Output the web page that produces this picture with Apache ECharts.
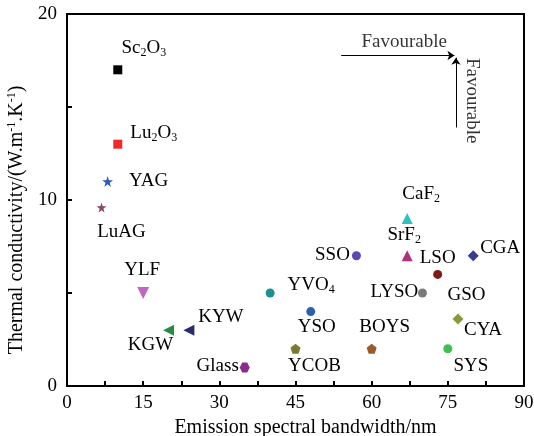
<!DOCTYPE html>
<html>
<head>
<meta charset="utf-8">
<script src="https://cdn.jsdelivr.net/npm/echarts@6/dist/echarts.min.js"></script>
<style>html,body{margin:0;padding:0;background:#fff;}#c{width:534px;height:436px;}</style>
</head>
<body>
<div id="c"></div>
<script>
const names = ['Sc2O3','Lu2O3','YAG','LuAG','YLF','YVO4','KGW','KYW','Glass','YCOB','YSO','BOYS','SYS','CYA','LYSO','GSO','LSO','SSO','SrF2','CaF2','CGA'];
const bandwidth = [10,10,8,6.8,15,40,20,24,35,45,48,60,75,77,70,70,73,57,67,67,80];
const conductivity = [17,13,11,9.6,5,5,3,3,1,2,4,2,2,3.6,5,5,6,7,7,9,7];
const xTicks = [0,15,30,45,60,75,90];
const yTicks = [0,10,20];
const annotationText = ['Favourable','Favourable'];

// styles (kept separate from data)
const FONT = '"Liberation Serif","Times New Roman",serif';
const colors = ['#000000','#ee2a2a','#2a5aba','#8a4a56','#c068c0','#1a9090','#2a8a40','#2a2a70','#8a2a8a','#7a7a30','#2a60b0','#9a5a2a','#40c050','#8a9a3a','#7a7a7a','#7a7a7a','#801a1a','#5a4ab0','#b03080','#30c0c0','#3a3a90'];
const STAR = 'path://M50,0 L61,35 L98,35 L68,57 L79,91 L50,70 L21,91 L32,57 L2,35 L39,35 Z';
const PENT = 'path://M50,0 L98,35 L79,91 L21,91 L2,35 Z';
const HEX = 'path://M25,0 L75,0 L100,50 L75,100 L25,100 L0,50 Z';
const symbols = ['rect','rect',STAR,STAR,'triangle','circle','triangle','triangle',HEX,PENT,'circle',PENT,'circle','diamond','circle','circle','circle','circle','triangle','triangle','diamond'];
const symRot = [0,0,0,0,180,0,90,90,0,0,0,0,0,0,0,0,0,0,0,0,0];
const symSize = [9,9,11,10,12,9,11,11,10,10,9,10,9,11,9,0,9,9,11,11,11];
const labelOffsets = [[26,-22],[36,-11],[41,0],[20,25],[-1,-23],[41,-8],[-18,15],[32,-13],[-27,-1],[19,17],[6,15],[13,-22],[23,17],[25,11],[-28,-1],[44,2],[0,-16],[-24,-1],[-3,-21],[14,-25],[27,-8]];

function richName(n){
  return n.replace(/([A-Za-z]+)|(\d+)/g,(m,a,d)=> a ? '{t|'+a+'}' : '{s|'+d+'}');
}
const rich = {
  t:{fontFamily:FONT,fontSize:19,color:'#000',lineHeight:22},
  s:{fontFamily:FONT,fontSize:12,color:'#000',verticalAlign:'bottom',lineHeight:12}
};

const pts = names.map((n,i)=>({
  name:n,
  value:[bandwidth[i],conductivity[i]],
  symbol:symbols[i],
  symbolSize:symSize[i],
  symbolRotate:symRot[i],
  itemStyle:{color:colors[i],opacity:1},
  label:{show:true,position:'inside',offset:labelOffsets[i],formatter:richName(n),rich:rich}
}));

const annoPts = [
  {value:[66.4,18.47],label:{show:true,position:'inside',formatter:annotationText[0],fontFamily:FONT,fontSize:19,color:'#000'}},
  {value:[79.8,15.34],label:{show:true,position:'inside',rotate:-90,formatter:annotationText[1],fontFamily:FONT,fontSize:19,color:'#000'}}
];

const chart = echarts.init(document.getElementById('c'),null,{renderer:'canvas'});
const axisCommon = {
  axisLine:{show:true,onZero:false,lineStyle:{color:'#000',width:2}},
  axisTick:{show:true,inside:true,length:5,lineStyle:{color:'#000',width:2}},
  minorTick:{show:true,splitNumber:2,length:5,lineStyle:{color:'#000',width:2}},
  splitLine:{show:false},
  axisLabel:{fontFamily:FONT,fontSize:19,color:'#000'}
};
chart.setOption({
  animation:false,
  backgroundColor:'#fff',
  grid:{left:67,right:10,top:14,bottom:50,containLabel:false,outerBoundsMode:'none',show:true,borderColor:'#000',borderWidth:2,backgroundColor:'transparent'},
  xAxis:Object.assign({},axisCommon,{
    type:'value',min:xTicks[0],max:xTicks[xTicks.length-1],interval:xTicks[1]-xTicks[0],
    name:'Emission spectral bandwidth/nm',nameLocation:'middle',nameGap:25,
    nameTextStyle:{fontFamily:FONT,fontSize:20,color:'#000',padding:[0,0,0,20]},
    axisLabel:{fontFamily:FONT,fontSize:19,color:'#000',margin:8}
  }),
  yAxis:Object.assign({},axisCommon,{
    type:'value',min:yTicks[0],max:yTicks[yTicks.length-1],interval:yTicks[1]-yTicks[0],
    name:'{t|Thermal conductivity/(W.m}{p|-1}{t|.K}{p|-1}{t|)}',nameLocation:'middle',nameGap:31,nameRotate:90,
    nameTextStyle:{fontFamily:FONT,fontSize:20,color:'#000',padding:[0,40,0,0],
      rich:{t:{fontFamily:FONT,fontSize:20,color:'#000',lineHeight:22},p:{fontFamily:FONT,fontSize:12,color:'#000',verticalAlign:'top',lineHeight:12}}},
    axisLabel:{fontFamily:FONT,fontSize:19,color:'#000',margin:10}
  }),
  series:[
    {
      type:'scatter',
      data:pts,
      z:3,
      markLine:{
        silent:true,animation:false,
        symbol:['none','arrow'],symbolSize:7,
        lineStyle:{color:'#000',width:1,type:'solid'},
        label:{show:false},
        data:[
          [{coord:[54,17.77]},{coord:[76.3,17.77]}],
          [{coord:[76.6,13.9]},{coord:[76.6,17.65]}]
        ]
      }
    },
    {
      type:'scatter',
      symbolSize:0,
      silent:true,
      data:annoPts
    }
  ]
});
</script>
</body>
</html>
